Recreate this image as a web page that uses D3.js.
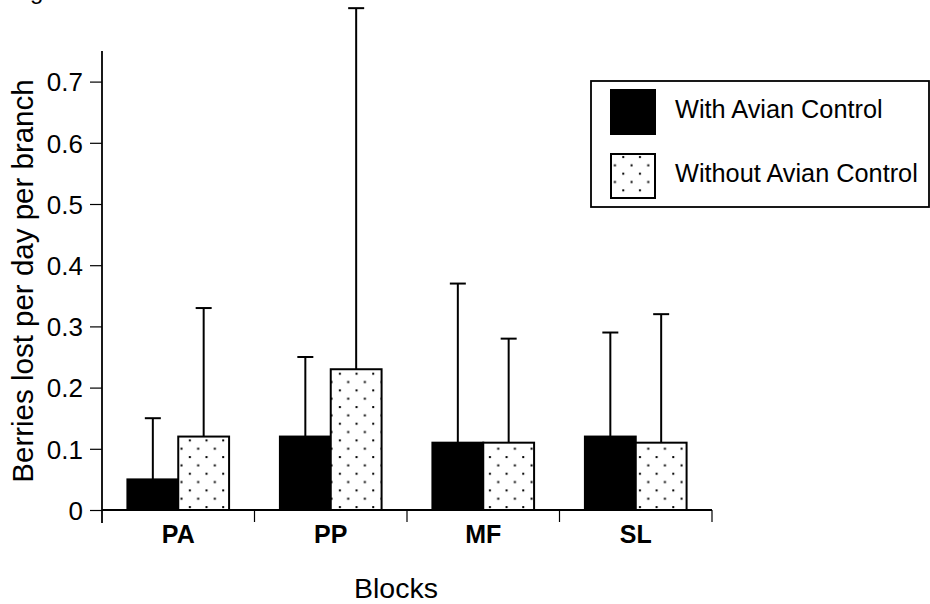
<!DOCTYPE html>
<html><head><meta charset="utf-8">
<script src="https://cdn.jsdelivr.net/npm/d3@7"></script>
<style>body{margin:0;background:#fff}svg{display:block}text{font-family:"Liberation Sans",Arial,sans-serif;fill:#000}</style>
</head><body>
<svg id="c" width="930" height="604"></svg>
<script>
const categories = ["PA","PP","MF","SL"];
const seriesNames = ["With Avian Control","Without Avian Control"];
const withControl = [0.05,0.12,0.11,0.12];
const withControlErr = [0.15,0.25,0.37,0.29];
const withoutControl = [0.12,0.23,0.11,0.11];
const withoutControlErr = [0.33,0.82,0.28,0.32];
const yTicks = [0,0.1,0.2,0.3,0.4,0.5,0.6,0.7];

const svg = d3.select("#c");
const defs = svg.append("defs");
const pat = defs.append("pattern").attr("id","dots").attr("patternUnits","userSpaceOnUse")
  .attr("width",16.67).attr("height",16.67).attr("x",1.5).attr("y",2);
pat.append("rect").attr("width",16.67).attr("height",16.67).attr("fill","#fff");
pat.append("rect").attr("x",4).attr("y",4).attr("width",2).attr("height",2).attr("fill","#000");
pat.append("rect").attr("x",12.3).attr("y",12.3).attr("width",2).attr("height",2).attr("fill","#000");

const y = d3.scaleLinear().domain([0,0.75]).range([510,51]);
const x0 = d3.scaleBand().domain(categories).range([102,712]).paddingInner(0).paddingOuter(0);
const x1 = d3.scaleBand().domain(seriesNames).range([0,x0.bandwidth()]).paddingInner(0).paddingOuter(0.5);

const data = categories.map((c,i)=>[
  {c, s:seriesNames[0], v:withControl[i], e:withControlErr[i]},
  {c, s:seriesNames[1], v:withoutControl[i], e:withoutControlErr[i]}
]).flat();

// error bars
const eg = svg.append("g");
data.forEach(d=>{
  const cx = x0(d.c)+x1(d.s)+x1.bandwidth()/2;
  eg.append("line").attr("x1",cx).attr("x2",cx).attr("y1",y(d.v)).attr("y2",y(d.e)).attr("stroke","#000").attr("stroke-width",2);
  eg.append("line").attr("x1",cx-8).attr("x2",cx+8).attr("y1",y(d.e)).attr("y2",y(d.e)).attr("stroke","#000").attr("stroke-width",2);
});

// bars
svg.append("g").selectAll("rect").data(data).join("rect")
  .attr("x",d=>x0(d.c)+x1(d.s))
  .attr("y",d=>y(d.v))
  .attr("width",x1.bandwidth())
  .attr("height",d=>y(0)-y(d.v))
  .attr("fill",d=>d.s===seriesNames[0]?"#000":"url(#dots)")
  .attr("stroke","#000").attr("stroke-width",2);

// y axis
const yAxis = d3.axisLeft(y).tickValues(yTicks).tickFormat(d=>d===0?"0":d3.format(".1f")(d)).tickSize(12).tickPadding(7);
const ya = svg.append("g").attr("transform","translate(102,0)").call(yAxis);
ya.select(".domain").remove();
ya.selectAll(".tick line").attr("stroke","#000").attr("stroke-width",1.2);
ya.selectAll("text").style("font-size","26px").attr("dy","0.36em");
svg.append("line").attr("x1",102).attr("x2",102).attr("y1",y(0.75)).attr("y2",523).attr("stroke","#000").attr("stroke-width",1.8);

// x axis
svg.append("line").attr("x1",102).attr("x2",712).attr("y1",510).attr("y2",510).attr("stroke","#000").attr("stroke-width",1.8);
const bounds = categories.map(c=>x0(c)).concat([x0(categories[categories.length-1])+x0.bandwidth()]);
svg.append("g").selectAll("line").data(bounds.slice(1)).join("line")
  .attr("x1",d=>d).attr("x2",d=>d).attr("y1",510).attr("y2",522).attr("stroke","#000").attr("stroke-width",1.2);
svg.append("g").selectAll("text").data(categories).join("text")
  .attr("x",d=>x0(d)+x0.bandwidth()/2).attr("y",543).attr("text-anchor","middle")
  .style("font-size","25px").style("font-weight","bold").text(d=>d);

// axis titles
svg.append("text").attr("x",396).attr("y",598).attr("text-anchor","middle").style("font-size","28.5px").text("Blocks");
svg.append("text").attr("transform","translate(33,281) rotate(-90)").attr("text-anchor","middle").style("font-size","29.5px").text("Berries lost per day per branch");
svg.append("text").attr("x",10).attr("y",-1).style("font-size","24px").text("Figure");

// legend
const lg = svg.append("g");
lg.append("rect").attr("x",591).attr("y",81).attr("width",338).attr("height",126).attr("fill","#fff").attr("stroke","#000").attr("stroke-width",1.8);
const ly = [90,154];
seriesNames.forEach((s,i)=>{
  lg.append("rect").attr("x",611).attr("y",ly[i]).attr("width",44).attr("height",44)
    .attr("fill",i===0?"#000":"url(#dots)").attr("stroke","#000").attr("stroke-width",2);
  lg.append("text").attr("x",675).attr("y",ly[i]+28).style("font-size","25.3px").text(s);
});
</script>
</body></html>
